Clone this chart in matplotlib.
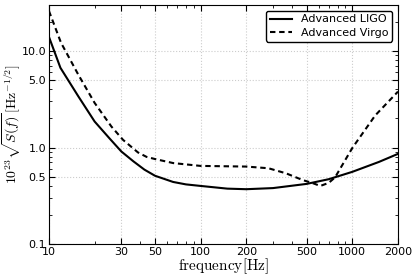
import matplotlib
matplotlib.use("Agg")
import matplotlib.pyplot as plt
from matplotlib.ticker import FixedLocator, FixedFormatter, LogLocator, NullFormatter

plt.rcParams["mathtext.fontset"] = "cm"

# Noise curves (frequency in Hz, 1e23 * sqrt(S))
ligo_freq = [10, 11.9, 15.6, 20, 25, 30, 36, 42.6, 50, 65.8, 80, 100, 150, 200, 300, 500, 700, 1000, 1500, 2000]
ligo_asd = [14, 6.7, 3.4, 1.86, 1.25, 0.91, 0.72, 0.59, 0.51, 0.44, 0.415, 0.40, 0.375, 0.37, 0.38, 0.42, 0.47, 0.56, 0.71, 0.86]

virgo_freq = [10, 12, 15.6, 20, 25.8, 30.8, 38.6, 44, 50, 66, 100, 200, 280, 366, 471, 543, 615, 698, 769, 1000, 1415, 2000]
virgo_asd = [26, 12.2, 5.7, 2.9, 1.65, 1.2, 0.89, 0.80, 0.76, 0.69, 0.645, 0.635, 0.61, 0.54, 0.46, 0.43, 0.40, 0.43, 0.49, 0.99, 2.15, 3.8]

xticks = [10, 30, 50, 100, 200, 500, 1000, 2000]
xtick_labels = ["10", "30", "50", "100", "200", "500", "1000", "2000"]
yticks = [0.1, 0.5, 1.0, 5.0, 10.0]
ytick_labels = ["0.1", "0.5", "1.0", "5.0", "10.0"]

fig = plt.figure(figsize=(4.15, 2.77), dpi=100)
ax = fig.add_axes([0.118, 0.119, 0.841, 0.863])

ax.plot(ligo_freq, ligo_asd, color="black", lw=1.5, label="Advanced LIGO")
ax.plot(virgo_freq, virgo_asd, color="black", lw=1.5, ls=(0, (2.6, 1.8)), label="Advanced Virgo")

ax.set_xscale("log")
ax.set_yscale("log")
ax.set_xlim(10, 2000)
ax.set_ylim(0.1, 30)

ax.xaxis.set_major_locator(FixedLocator(xticks))
ax.xaxis.set_major_formatter(FixedFormatter(xtick_labels))
ax.xaxis.set_minor_locator(LogLocator(base=10, subs=range(2, 10)))
ax.xaxis.set_minor_formatter(NullFormatter())
ax.yaxis.set_major_locator(FixedLocator(yticks))
ax.yaxis.set_major_formatter(FixedFormatter(ytick_labels))
ax.yaxis.set_minor_locator(LogLocator(base=10, subs=range(2, 10)))
ax.yaxis.set_minor_formatter(NullFormatter())

ax.tick_params(which="both", direction="in", top=True, right=True, labelsize=8, pad=2)
ax.tick_params(which="major", length=4)
ax.tick_params(which="minor", length=2)
ax.grid(True, which="major", color="#cccccc", ls=":", lw=0.8)

ax.set_xlabel(r"$\mathrm{frequency}[\mathrm{Hz}]$", fontsize=11, labelpad=0)
ax.set_ylabel(r"$10^{23}\sqrt{S(f)}\,[\mathrm{Hz}^{-1/2}]$", fontsize=10)
ax.yaxis.set_label_coords(-0.075, 0.5)

ax.legend(loc="upper right", fontsize=8, fancybox=True, framealpha=1,
          edgecolor="black", handlelength=2.0, labelspacing=0.3,
          borderpad=0.35, borderaxespad=0.5)

fig.savefig("out.png", dpi=100)
